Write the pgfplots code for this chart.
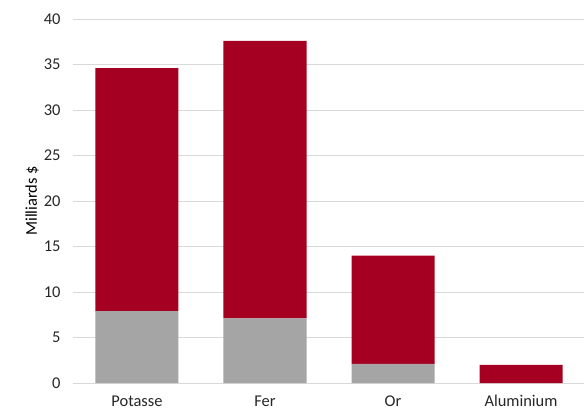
\documentclass[border=0pt]{standalone}
\usepackage{pgfplots}
\pgfplotsset{compat=1.18}
\usepackage{fontspec}
\setmainfont{Carlito}
\definecolor{barred}{HTML}{A50021}
\definecolor{bargray}{HTML}{A5A5A5}
\definecolor{gridc}{HTML}{D9D9D9}
\begin{document}
\begin{tikzpicture}
\begin{axis}[
  scale only axis,
  width=512bp, height=364bp,
  ybar stacked,
  bar width=83bp,
  xmin=-0.5, xmax=3.5,
  ymin=0, ymax=40,
  ytick={0,5,...,40},
  xtick={0,1,2,3},
  xticklabels={Potasse,Fer,Or,Aluminium},
  axis line style={draw=none},
  tick style={draw=none},
  ymajorgrids,
  grid style={gridc, line width=0.9bp},
  /pgf/number format/assume math mode=true,
  ticklabel style={font=\fontsize{16.5}{18}\selectfont, text=black!85},
  yticklabel style={xshift=-9bp},
  xticklabel style={yshift=-9bp},
  every axis y label/.style={at={(axis description cs:-0.08,0.5)}, rotate=90, anchor=center, font=\fontsize{16.5}{18}\selectfont, text=black},
  ylabel={Milliards \$},
]
\addplot[fill=bargray, draw=none] coordinates {(0,7.9) (1,7.1) (2,2.1) (3,0)};
\addplot[fill=barred, draw=none] coordinates {(0,26.7) (1,30.5) (2,11.9) (3,2.0)};
\end{axis}
\pgfresetboundingbox
\useasboundingbox (-73bp,-29bp) rectangle (511bp,383bp);
\end{tikzpicture}
\end{document}
